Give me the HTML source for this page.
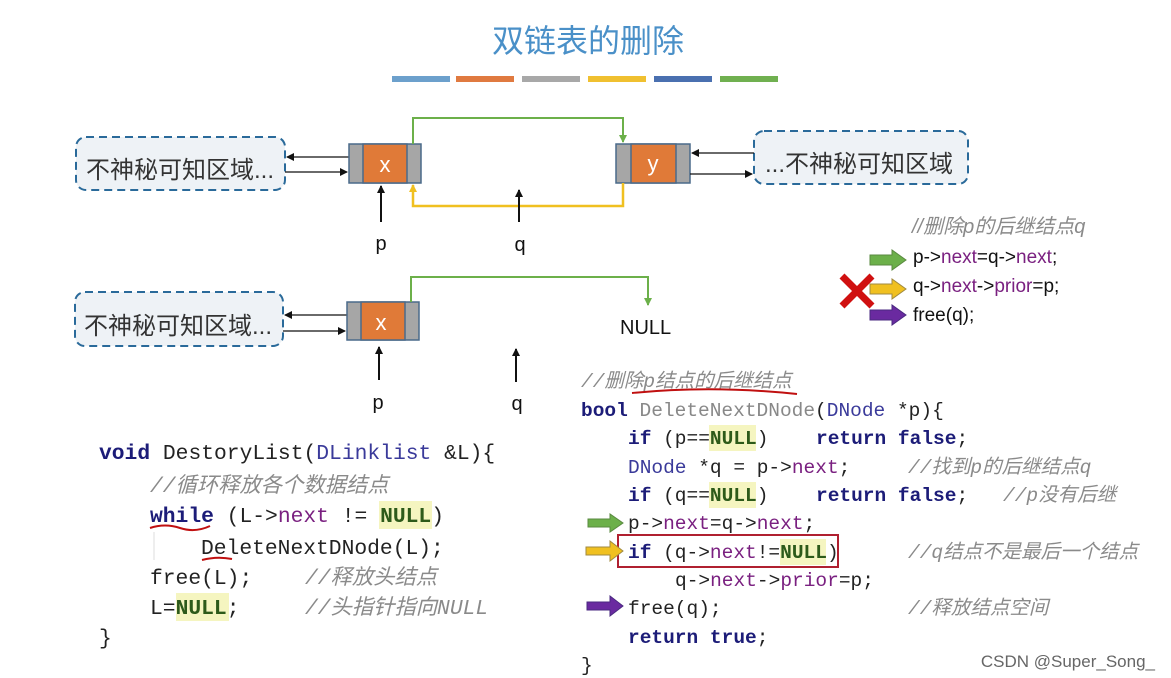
<!DOCTYPE html>
<html><head><meta charset="utf-8"><style>
html,body{margin:0;padding:0;background:#fff;width:1171px;height:678px;overflow:hidden}
svg{display:block}
text{white-space:pre}
.cj{font-family:"Liberation Sans","Noto Sans CJK SC",sans-serif}
.mono{font-family:"Liberation Mono","Noto Sans CJK SC",monospace}
.kw{fill:#1c1c78;font-weight:bold}
.pu{fill:#7a2080}
.cm{fill:#8a8a8a;font-style:italic}
.nl{fill:#2d5a1a;font-weight:bold}
.ty{fill:#3a3a9a}
.gr{fill:#888}
</style></head><body>
<svg width="1171" height="678" viewBox="0 0 1171 678" xmlns="http://www.w3.org/2000/svg">
<defs>
<marker id="ab" markerWidth="8" markerHeight="8" refX="7" refY="4" orient="auto" markerUnits="userSpaceOnUse"><path d="M0,0 L8,4 L0,8 z" fill="#111"/></marker>
<marker id="ag" markerWidth="8" markerHeight="8" refX="7" refY="4" orient="auto" markerUnits="userSpaceOnUse"><path d="M0,0 L8,4 L0,8 z" fill="#6cb04a"/></marker>
<marker id="ay" markerWidth="8" markerHeight="8" refX="7" refY="4" orient="auto" markerUnits="userSpaceOnUse"><path d="M0,0 L8,4 L0,8 z" fill="#f0c020"/></marker>
</defs>
<text x="588" y="52" text-anchor="middle" class="cj" font-size="32" fill="#4a90c8">双链表的删除</text>
<rect x="392" y="76" width="58" height="6" fill="#6ca0cc"/>
<rect x="456" y="76" width="58" height="6" fill="#e07a40"/>
<rect x="522" y="76" width="58" height="6" fill="#a8a8a8"/>
<rect x="588" y="76" width="58" height="6" fill="#f0c030"/>
<rect x="654" y="76" width="58" height="6" fill="#4a70b0"/>
<rect x="720" y="76" width="58" height="6" fill="#70b050"/>

<!-- diagram 1 -->
<rect x="76" y="137" width="209" height="53" rx="10" fill="#eef2f6" stroke="#2a6a9a" stroke-width="2" stroke-dasharray="8,5"/>
<text x="86" y="178" class="cj" font-size="24" fill="#333">不神秘可知区域...</text>
<line x1="349" y1="157" x2="287" y2="157" stroke="#111" stroke-width="1.3" marker-end="url(#ab)"/>
<line x1="285" y1="172" x2="347" y2="172" stroke="#111" stroke-width="1.3" marker-end="url(#ab)"/>
<rect x="349" y="144" width="72" height="39" fill="#a6a6a6" stroke="#4a6a8a" stroke-width="1.5"/>
<rect x="363" y="144" width="44" height="39" fill="#e07a38" stroke="#4a6a8a" stroke-width="1.5"/>
<text x="385" y="172" text-anchor="middle" class="cj" font-size="22" fill="#fff">x</text>
<rect x="616" y="144" width="74" height="39" fill="#a6a6a6" stroke="#4a6a8a" stroke-width="1.5"/>
<rect x="631" y="144" width="45" height="39" fill="#e07a38" stroke="#4a6a8a" stroke-width="1.5"/>
<text x="653" y="171" text-anchor="middle" class="cj" font-size="22" fill="#fff">y</text>
<rect x="754" y="131" width="214" height="53" rx="10" fill="#eef2f6" stroke="#2a6a9a" stroke-width="2" stroke-dasharray="8,5"/>
<text x="765" y="172" class="cj" font-size="24" fill="#333">...不神秘可知区域</text>
<line x1="754" y1="153" x2="692" y2="153" stroke="#111" stroke-width="1.3" marker-end="url(#ab)"/>
<line x1="690" y1="174" x2="752" y2="174" stroke="#111" stroke-width="1.3" marker-end="url(#ab)"/>
<polyline points="413,144 413,118 623,118 623,142" fill="none" stroke="#6cb04a" stroke-width="2" marker-end="url(#ag)"/>
<polyline points="623,183 623,206 413,206 413,185" fill="none" stroke="#f0c020" stroke-width="2.5" marker-end="url(#ay)"/>
<line x1="381" y1="222" x2="381" y2="186" stroke="#111" stroke-width="2" marker-end="url(#ab)"/>
<text x="381" y="250" text-anchor="middle" class="cj" font-size="20" fill="#111">p</text>
<line x1="519" y1="222" x2="519" y2="190" stroke="#111" stroke-width="2" marker-end="url(#ab)"/>
<text x="520" y="251" text-anchor="middle" class="cj" font-size="20" fill="#111">q</text>

<!-- diagram 2 -->
<rect x="75" y="292" width="208" height="54" rx="10" fill="#eef2f6" stroke="#2a6a9a" stroke-width="2" stroke-dasharray="8,5"/>
<text x="84" y="334" class="cj" font-size="24" fill="#333">不神秘可知区域...</text>
<line x1="347" y1="315" x2="285" y2="315" stroke="#111" stroke-width="1.3" marker-end="url(#ab)"/>
<line x1="283" y1="331" x2="345" y2="331" stroke="#111" stroke-width="1.3" marker-end="url(#ab)"/>
<rect x="347" y="302" width="72" height="38" fill="#a6a6a6" stroke="#4a6a8a" stroke-width="1.5"/>
<rect x="361" y="302" width="44" height="38" fill="#e07a38" stroke="#4a6a8a" stroke-width="1.5"/>
<text x="381" y="330" text-anchor="middle" class="cj" font-size="22" fill="#fff">x</text>
<polyline points="411,302 411,277 648,277 648,305" fill="none" stroke="#6cb04a" stroke-width="2" marker-end="url(#ag)"/>
<text x="620" y="334" class="cj" font-size="20" fill="#111">NULL</text>
<line x1="379" y1="380" x2="379" y2="347" stroke="#111" stroke-width="2" marker-end="url(#ab)"/>
<text x="378" y="409" text-anchor="middle" class="cj" font-size="20" fill="#111">p</text>
<line x1="516" y1="382" x2="516" y2="349" stroke="#111" stroke-width="2" marker-end="url(#ab)"/>
<text x="517" y="410" text-anchor="middle" class="cj" font-size="20" fill="#111">q</text>

<!-- top right snippet -->
<text x="912" y="233" class="cj cm" font-size="20">//删除p的后继结点q</text>
<g class="cj" font-size="19" fill="#111">
<text x="913" y="263">p-&gt;<tspan class="pu">next</tspan>=q-&gt;<tspan class="pu">next</tspan>;</text>
<text x="913" y="292">q-&gt;<tspan class="pu">next</tspan>-&gt;<tspan class="pu">prior</tspan>=p;</text>
<text x="913" y="321">free(q);</text>
</g>
<path d="M870,255 h22 v-5 l14,10 l-14,10 v-5 h-22z" fill="#6cb04a" stroke="#5a8a40"/>
<path d="M870,284 h22 v-5 l14,10 l-14,10 v-5 h-22z" fill="#f0c020" stroke="#a08a40"/>
<path d="M870,310 h22 v-5 l14,10 l-14,10 v-5 h-22z" fill="#6a2aa0" stroke="#4a2a80"/>
<path d="M842,276 l30,30 M872,276 l-30,30" stroke="#d01010" stroke-width="7"/>

<!-- left code -->
<g class="mono" font-size="21.3" fill="#222">
<text x="99" y="459"><tspan class="kw">void</tspan> DestoryList(<tspan class="ty">DLinklist</tspan> &amp;L){</text>
<text x="150" y="492" class="cm">//循环释放各个数据结点</text>
<rect x="379" y="501" width="53" height="28" fill="#f5f5c0"/>
<text x="150" y="522"><tspan class="kw">while</tspan> (L-&gt;<tspan class="pu">next</tspan> != <tspan class="nl">NULL</tspan>)</text>
<text x="201" y="554">DeleteNextDNode(L);</text>
<text x="150" y="584">free(L);</text>
<text x="305" y="584" class="cm">//释放头结点</text>
<rect x="176" y="593" width="53" height="28" fill="#f5f5c0"/>
<text x="150" y="614">L=<tspan class="nl">NULL</tspan>;</text>
<text x="305" y="614" class="cm">//头指针指向NULL</text>
<text x="99" y="644">}</text>
</g>
<path d="M150,528 q15,-5 30,0 t30,-2" fill="none" stroke="#c01010" stroke-width="2"/>
<path d="M202,560 q15,-4 30,-1" fill="none" stroke="#c01010" stroke-width="2"/>
<line x1="154" y1="532" x2="154" y2="560" stroke="#ddd"/>

<!-- right code -->
<g class="mono" font-size="19.5" fill="#222">
<text x="581" y="387" class="cm">//删除p结点的后继结点</text>
<text x="581" y="416"><tspan class="kw">bool</tspan> <tspan class="gr">DeleteNextDNode</tspan>(<tspan class="ty">DNode</tspan> *p){</text>
<rect x="709" y="425" width="47" height="26" fill="#f5f5c0"/>
<text x="628" y="444"><tspan class="kw">if</tspan> (p==<tspan class="nl">NULL</tspan>)</text>
<text x="816" y="444" class="kw">return false<tspan fill="#222" font-weight="normal">;</tspan></text>
<text x="628" y="473"><tspan class="ty">DNode</tspan> *q = p-&gt;<tspan class="pu">next</tspan>;</text>
<text x="908" y="473" class="cm">//找到p的后继结点q</text>
<rect x="709" y="482" width="47" height="26" fill="#f5f5c0"/>
<text x="628" y="501"><tspan class="kw">if</tspan> (q==<tspan class="nl">NULL</tspan>)</text>
<text x="816" y="501" class="kw">return false<tspan fill="#222" font-weight="normal">;</tspan></text>
<text x="1003" y="501" class="cm">//p没有后继</text>
<text x="628" y="529">p-&gt;<tspan class="pu">next</tspan>=q-&gt;<tspan class="pu">next</tspan>;</text>
<rect x="780" y="539" width="46" height="26" fill="#f5f5c0"/>
<text x="628" y="558"><tspan class="kw">if</tspan> (q-&gt;<tspan class="pu">next</tspan>!=<tspan class="nl">NULL</tspan>)</text>
<text x="908" y="558" class="cm">//q结点不是最后一个结点</text>
<text x="675" y="586">q-&gt;<tspan class="pu">next</tspan>-&gt;<tspan class="pu">prior</tspan>=p;</text>
<text x="628" y="614">free(q);</text>
<text x="908" y="614" class="cm">//释放结点空间</text>
<text x="628" y="643"><tspan class="kw">return true</tspan>;</text>
<text x="581" y="671">}</text>
</g>
<path d="M632,393 q80,-8 165,1" fill="none" stroke="#c01010" stroke-width="2"/>
<rect x="618" y="535" width="220" height="32" fill="none" stroke="#b02030" stroke-width="2"/>
<path d="M588,519 h22 v-5 l13,9 l-13,9 v-5 h-22z" fill="#6cb04a" stroke="#5a8a40"/>
<path d="M586,547 h24 v-6 l13,10 l-13,10 v-6 h-24z" fill="#f0c020" stroke="#a08a40"/>
<path d="M587,602 h23 v-6 l13,10 l-13,10 v-6 h-23z" fill="#6a2aa0" stroke="#4a2a80"/>
<text x="1155" y="667" text-anchor="end" class="cj" font-size="17" fill="#666">CSDN @Super_Song_</text>
</svg>
</body></html>
